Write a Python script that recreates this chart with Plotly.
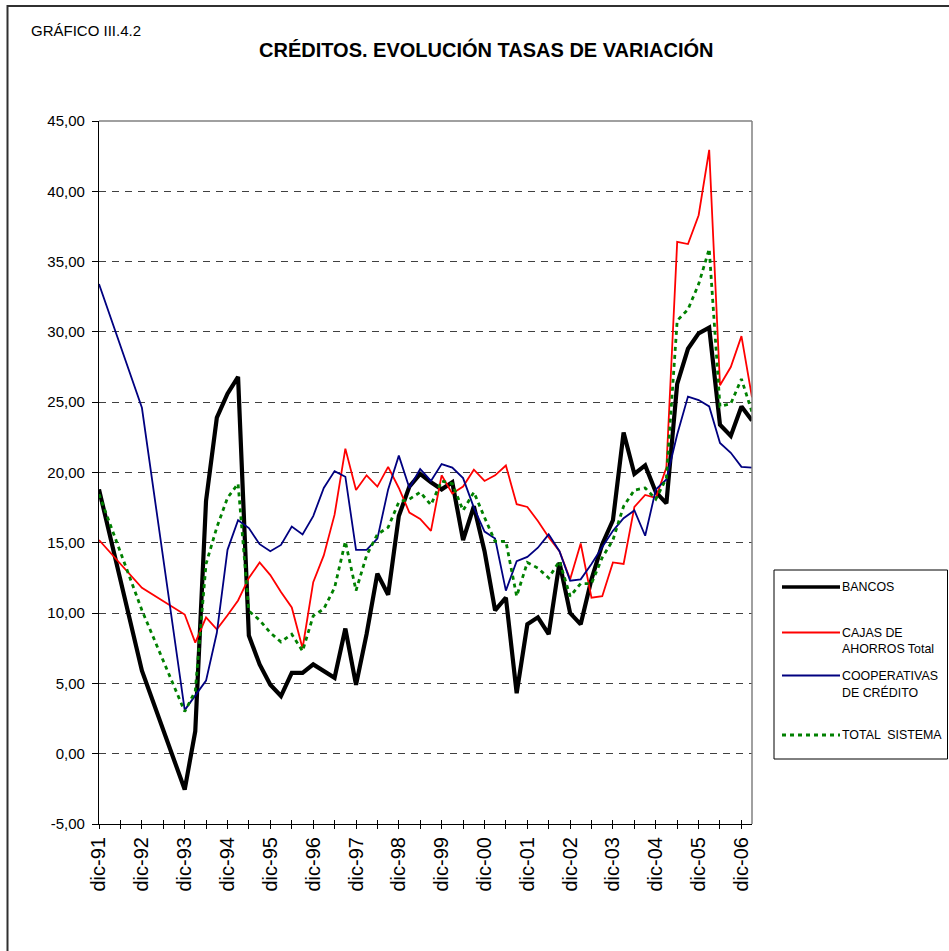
import plotly.graph_objects as go

# ---------------- data ----------------
dates = ["1991-12-01", "1992-12-01", "1993-12-01"]
for yr in range(1994, 2007):
    for m in ("03", "06", "09", "12"):
        dates.append(f"{yr}-{m}-01")
dates.append("2007-03-01")

bancos = [18.8, 5.9, -2.55,
          1.6, 18.0, 23.9, 25.6,
          26.8, 8.4, 6.35, 4.9,
          4.1, 5.75, 5.75, 6.35,
          5.9, 5.4, 8.9, 4.9,
          8.5, 12.8, 11.3, 16.9,
          19.0, 19.9, 19.3, 18.8,
          19.3, 15.2, 17.6, 14.4,
          10.2, 11.1, 4.3, 9.2,
          9.7, 8.5, 13.6, 10.0,
          9.2, 12.4, 14.9, 16.6,
          22.85, 19.9, 20.5, 18.6,
          17.8, 26.3, 28.8, 29.9,
          30.3, 23.4, 22.6, 24.7,
          23.7]

cajas = [15.2, 11.8, 9.9,
         7.9, 9.7, 8.85, 9.85,
         10.9, 12.5, 13.6, 12.7,
         11.5, 10.4, 7.5, 12.2,
         14.1, 17.0, 21.7, 18.75,
         19.8, 19.0, 20.4, 18.9,
         17.15, 16.7, 15.85, 19.8,
         18.5, 19.0, 20.2, 19.4,
         19.8, 20.5, 17.75, 17.55,
         16.55, 15.4, 14.4, 12.4,
         14.95, 11.1, 11.2, 13.6,
         13.5, 17.55, 18.4, 18.2,
         20.35, 36.4, 36.25, 38.3,
         42.95, 26.2, 27.5, 29.7,
         25.35]

cooperativas = [33.4, 24.6, 3.1,
                4.15, 5.2, 8.6, 14.5,
                16.6, 16.05, 14.9, 14.4,
                14.85, 16.15, 15.6, 16.9,
                18.9, 20.1, 19.7, 14.5,
                14.5, 15.3, 18.8, 21.2,
                18.9, 20.25, 19.4, 20.6,
                20.35, 19.6, 17.5, 15.8,
                15.3, 11.6, 13.7, 14.0,
                14.65, 15.6, 14.4, 12.3,
                12.4, 13.5, 14.7, 15.85,
                16.75, 17.3, 15.5, 18.8,
                19.5, 22.7, 25.4, 25.15,
                24.7, 22.1, 21.4, 20.4,
                20.35]

total = [18.45, 10.2, 3.0,
         4.45, 13.5, 16.1, 18.2,
         19.2, 10.15, 9.5, 8.6,
         7.95, 8.5, 7.3, 9.8,
         10.3, 11.8, 15.1, 11.6,
         14.1, 15.6, 16.1, 17.9,
         18.1, 18.6, 17.7, 19.4,
         19.2, 17.3, 18.6, 16.8,
         15.1, 15.1, 11.2, 13.6,
         13.2, 12.5, 13.7, 11.2,
         12.1, 12.1, 13.95, 15.2,
         17.6, 18.75, 18.9, 18.1,
         19.6, 30.8, 31.6, 33.4,
         35.9, 24.7, 24.9, 26.65,
         24.3]

series_names = ["BANCOS", "CAJAS DE AHORROS Total", "COOPERATIVAS DE CRÉDITO", "TOTAL  SISTEMA"]
legend_lines = [["BANCOS"], ["CAJAS DE", "AHORROS Total"], ["COOPERATIVAS", "DE CRÉDITO"], ["TOTAL  SISTEMA"]]

years = list(range(1991, 2007))
tick_vals = []
tick_text = []
for yr in years:
    tick_vals.append(f"{yr}-12-01")
    tick_text.append(f"dic-{yr % 100:02d}")
    if yr < 2006:
        tick_vals.append(f"{yr + 1}-06-01")
        tick_text.append("")

y_vals = list(range(-5, 50, 5))
y_text = [f"{v},00" for v in y_vals]

title_text = "CRÉDITOS. EVOLUCIÓN TASAS DE VARIACIÓN"
subtitle_text = "GRÁFICO III.4.2"

# ---------------- styles ----------------
FONT = "Liberation Sans, Arial, sans-serif"
W, H = 949, 951
L, R, T, B = 99, 752, 121, 824  # plot area in page pixels


def px(x):
    return (x - L) / (R - L)


def py(y):
    return (B - y) / (B - T)


styles = [
    dict(color="#000000", width=4.2),
    dict(color="#FF0000", width=1.8),
    dict(color="#000080", width=1.8),
    dict(color="#008000", width=2.8, dash="4px,4px"),
]

fig = go.Figure()
for name, vals, st in zip(series_names, [bancos, cajas, cooperativas, total], styles):
    fig.add_trace(go.Scatter(x=dates, y=vals, mode="lines", name=name,
                             line=st, showlegend=False))

# helper trace for the upper half of the crossing x ticks
fig.add_trace(go.Scatter(x=[dates[0]], y=[None], xaxis="x2", mode="lines",
                         showlegend=False, hoverinfo="skip"))

shapes = []
# outer chart border (open at right/bottom, beyond the page)
shapes.append(dict(type="rect", xref="paper", yref="paper", x0=px(7.5), x1=px(975),
                   y0=py(975), y1=py(6), layer="below",
                   line=dict(color="#303030", width=2), fillcolor="rgba(0,0,0,0)"))
# plot area top / right border (gray)
shapes.append(dict(type="line", xref="paper", yref="paper", x0=0, x1=1, y0=1, y1=1,
                   line=dict(color="#808080", width=1.5)))
shapes.append(dict(type="line", xref="paper", yref="paper", x0=1, x1=1, y0=0, y1=1,
                   line=dict(color="#808080", width=1.5)))
# legend box
shapes.append(dict(type="rect", xref="paper", yref="paper", x0=px(774), x1=px(947.5),
                   y0=py(759), y1=py(570), line=dict(color="#000000", width=1),
                   fillcolor="white"))

legend_y = [587, 632.5, 675.5, 735]
annotations = []
for lines, ly, st in zip(legend_lines, legend_y, styles):
    ldash = st.get("dash", "solid")
    shapes.append(dict(type="line", xref="paper", yref="paper", x0=px(782), x1=px(840),
                       y0=py(ly), y1=py(ly),
                       line=dict(color=st["color"], width=min(st["width"], 3.5), dash=ldash)))
    for i, t in enumerate(lines):
        annotations.append(dict(text=t, xref="paper", yref="paper", x=px(840), y=py(ly + i * 16.5),
                                xanchor="left", yanchor="middle", showarrow=False,
                                font=dict(family=FONT, size=12.4, color="black")))

annotations.append(dict(text=f"<b>{title_text}</b>", xref="paper", yref="paper",
                        x=px(486), y=py(49), xanchor="center", yanchor="middle",
                        showarrow=False, font=dict(family=FONT, size=20, color="black")))
annotations.append(dict(text=subtitle_text, xref="paper", yref="paper",
                        x=px(29), y=py(30), xanchor="left", yanchor="middle",
                        showarrow=False, font=dict(family=FONT, size=15, color="black")))

fig.update_layout(
    width=W, height=H,
    margin=dict(l=L, r=W - R, t=T, b=H - B, pad=0),
    paper_bgcolor="white", plot_bgcolor="white",
    font=dict(family=FONT, color="black"),
    showlegend=False,
    xaxis=dict(type="date", range=["1991-12-01", "2007-03-01"],
               tickmode="array", tickvals=tick_vals, ticktext=tick_text,
               tickangle=-90, ticks="outside", ticklen=4, tickwidth=1, tickcolor="black",
               showline=True, linecolor="black", linewidth=1.2, showgrid=False,
               zeroline=False, tickfont=dict(family=FONT, size=20, color="black")),
    xaxis2=dict(type="date", range=["1991-12-01", "2007-03-01"], overlaying="x",
                anchor="y", side="bottom",
                tickmode="array", tickvals=tick_vals, ticktext=["" for _ in tick_vals],
                ticks="inside", ticklen=4, tickwidth=1, tickcolor="black",
                showline=False, showgrid=False, zeroline=False, showticklabels=False),
    yaxis=dict(range=[-5, 45], tickmode="array", tickvals=y_vals, ticktext=y_text,
               ticks="outside", ticklen=6, tickwidth=1, tickcolor="black",
               showline=True, linecolor="black", linewidth=1.2,
               showgrid=True, gridcolor="#404040", gridwidth=1, griddash="7px,6px",
               zeroline=False, ticklabelstandoff=4,
               tickfont=dict(family=FONT, size=15, color="black")),
    shapes=shapes,
    annotations=annotations,
)

fig.write_html(
    "out.html",
    config={"displayModeBar": False},
    post_script="document.body.style.margin='0px';document.documentElement.style.overflow='hidden';",
)
